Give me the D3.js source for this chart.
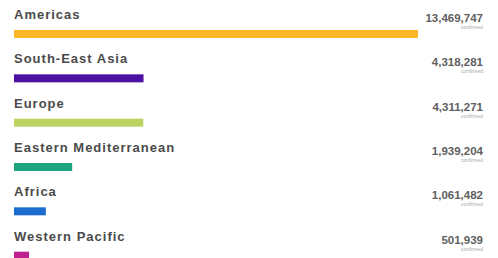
<!DOCTYPE html>
<html>
<head>
<meta charset="utf-8">
<script src="https://cdn.jsdelivr.net/npm/d3@7"></script>
<style>
  body { margin: 0; background: #fff; }
  text { font-family: "Liberation Sans", Arial, sans-serif; }
</style>
</head>
<body>
<script>
// data
var regions = ["Americas", "South-East Asia", "Europe", "Eastern Mediterranean", "Africa", "Western Pacific"];
var confirmed = [13469747, 4318281, 4311271, 1939204, 1061482, 501939];
var colors = ["#f8b827", "#4b11a3", "#bdd361", "#1fa57e", "#1b6ed0", "#c0208e"];

var width = 498, height = 258;

var svg = d3.select("body").append("svg")
    .attr("width", width)
    .attr("height", height);

// row positions
var y = d3.scaleBand()
    .domain(regions)
    .range([7, 273])
    .paddingInner(0);

// bar length
var x = d3.scaleLinear()
    .domain([0, d3.max(confirmed)])
    .range([0, 404]);

var rows = svg.selectAll(".row")
    .data(regions)
  .enter().append("g")
    .attr("class", "row")
    .attr("transform", function(d) { return "translate(0," + y(d) + ")"; });

rows.append("text")
    .attr("x", 14)
    .attr("y", 12)
    .attr("fill", "#4a4a4a")
    .style("font-size", "13px")
    .style("font-weight", "bold")
    .style("letter-spacing", "1px")
    .text(function(d) { return d; });

rows.append("rect")
    .attr("x", 14)
    .attr("y", 23)
    .attr("height", 8)
    .attr("width", function(d, i) { return x(confirmed[i]); })
    .attr("fill", function(d, i) { return colors[i]; });

rows.append("text")
    .attr("x", 483)
    .attr("y", 15)
    .attr("text-anchor", "end")
    .attr("fill", "#606060")
    .style("font-size", "11.5px")
    .style("font-weight", "bold")
    .text(function(d, i) { return d3.format(",")(confirmed[i]); });

rows.append("text")
    .attr("x", 483)
    .attr("y", 22)
    .attr("text-anchor", "end")
    .attr("fill", "#aaa")
    .style("font-size", "5px")
    .text("confirmed");
</script>
</body>
</html>
